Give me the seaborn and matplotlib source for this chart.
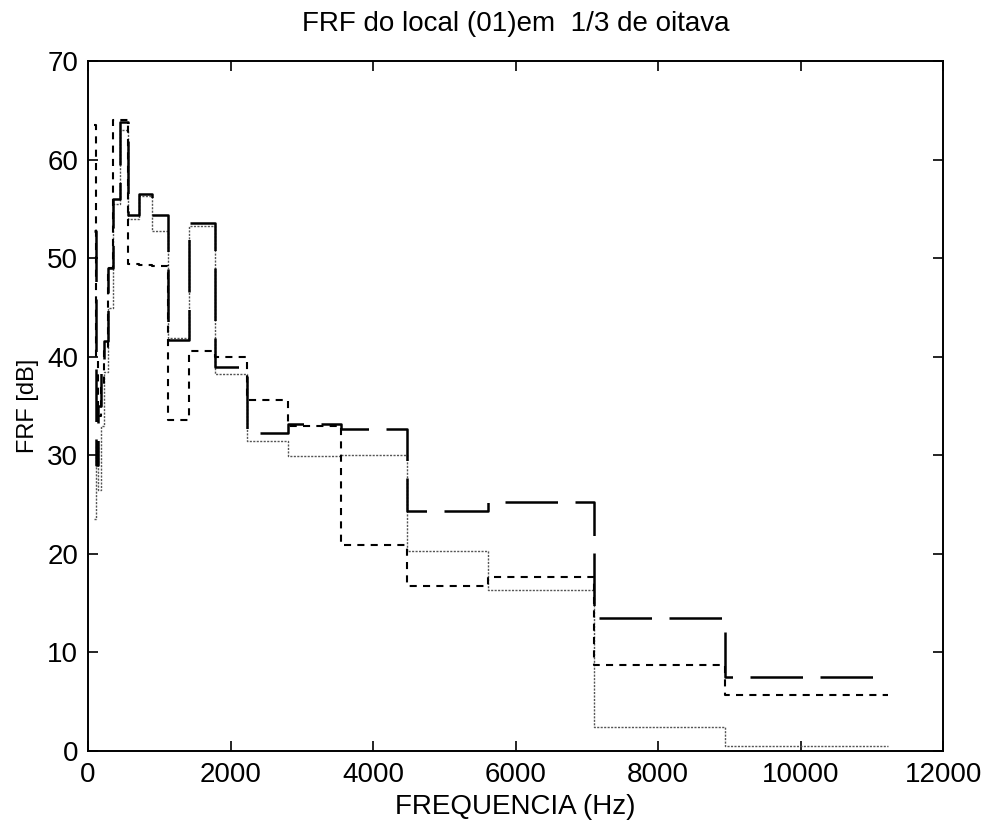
import numpy as np
import pandas as pd
import matplotlib
matplotlib.use("Agg")
import matplotlib.pyplot as plt
import seaborn as sns

# 1/3-octave band centre frequencies (Hz)
bands = [100, 125, 160, 200, 250, 315, 400, 500, 630, 800, 1000,
         1250, 1600, 2000, 2500, 3150, 4000, 5000, 6300, 8000, 10000]

# FRF levels per band (dB)
frf_long = [52.8, 29.0, 35.0, 39.0, 41.6, 49.0, 56.0, 63.8, 54.4, 56.5, 54.4,
            41.7, 53.6, 39.0, 32.3, 33.2, 32.7, 24.4, 25.3, 13.5, 7.5]
frf_short = [63.5, 40.0, 34.0, 37.0, 40.6, 49.0, 64.0, 64.0, 49.4, 49.3, 49.2,
             33.6, 40.6, 40.0, 35.6, 33.0, 20.9, 16.7, 17.7, 8.7, 5.7]
frf_thin = [23.5, 31.0, 26.5, 33.0, 38.5, 45.0, 55.5, 63.0, 54.0, 56.3, 52.8,
            41.9, 53.3, 38.3, 31.5, 29.9, 30.0, 20.3, 16.3, 2.4, 0.5]

title = "FRF do local (01)em  1/3 de oitava"
xlabel = "FREQUENCIA (Hz)"
ylabel = "FRF [dB]"
xticks = [0, 2000, 4000, 6000, 8000, 10000, 12000]
yticks = [0, 10, 20, 30, 40, 50, 60, 70]

sns.set_theme(style="white")
plt.rcParams["font.family"] = ["Liberation Sans", "DejaVu Sans"]

# band edges: geometric means between neighbouring centres
centres = np.array(bands, dtype=float)
inner = np.sqrt(centres[:-1] * centres[1:])
edges = np.concatenate([[centres[0] * 2 ** (-1 / 6)], inner,
                        [centres[-1] * 2 ** (1 / 6)]])


def stairs_frame(vals):
    v = list(vals) + [vals[-1]]
    return pd.DataFrame({"f": edges, "dB": v})


fig = plt.figure(figsize=(9.92, 8.27), dpi=100)
ax = fig.add_axes([0.0887, 0.092, 0.862, 0.834])

common = dict(x="f", y="dB", ax=ax, estimator=None, errorbar=None,
              drawstyle="steps-post", legend=False)
sns.lineplot(data=stairs_frame(frf_thin), color="#555555", linewidth=1.0,
             linestyle=(0, (1.5, 1.0)), **common)
sns.lineplot(data=stairs_frame(frf_short), color="black", linewidth=1.5,
             linestyle=(0, (3.4, 3.0)), **common)
sns.lineplot(data=stairs_frame(frf_long), color="black", linewidth=1.8,
             linestyle=(0, (21, 7)), **common)

ax.set_xlim(0, 12000)
ax.set_ylim(0, 70)
ax.set_xticks(xticks)
ax.set_yticks(yticks)
ax.set_xticklabels([str(t) for t in xticks], fontsize=20)
ax.set_yticklabels([str(t) for t in yticks], fontsize=20)
ax.tick_params(direction="in", length=7, width=1.2, top=True, right=True,
               bottom=True, left=True, colors="black")
ax.tick_params(axis="x", pad=8)
ax.tick_params(axis="y", pad=7)
for s in ax.spines.values():
    s.set_visible(True)
    s.set_color("black")
    s.set_linewidth(1.4)

ax.set_title(title, fontsize=20, pad=22, color="black")
ax.set_xlabel(xlabel, fontsize=20, labelpad=4, color="black")
ax.set_ylabel(ylabel, fontsize=17, labelpad=6, color="black")
ax.set_facecolor("white")
fig.patch.set_facecolor("white")

fig.savefig("out.png", dpi=100)
